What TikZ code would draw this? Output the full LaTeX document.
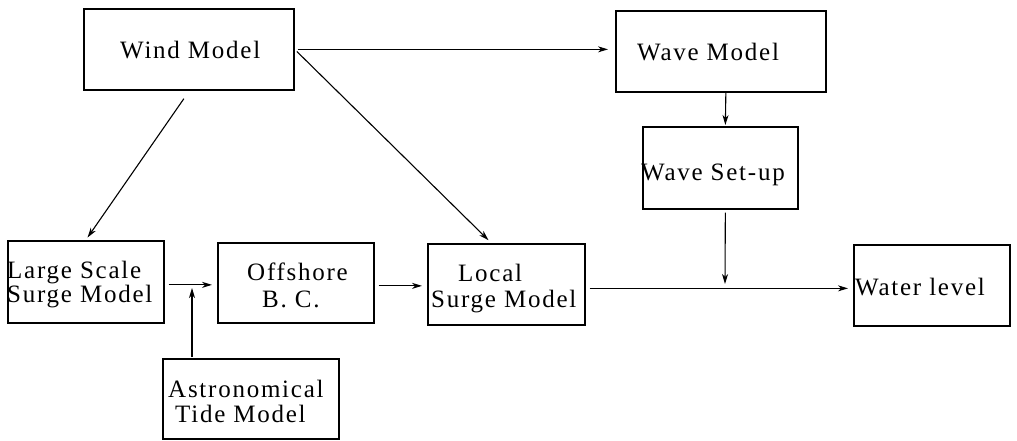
\documentclass[tikz,border=0pt]{standalone}
\usepackage{fontspec}
\setmainfont{Liberation Serif}[LetterSpace=7]
\usetikzlibrary{arrows.meta}
\begin{document}
\begin{tikzpicture}[x=1pt,y=-1pt,
  box/.style={draw, line width=1.7pt, inner sep=0pt, anchor=north west},
  lbl/.style={inner sep=0pt, anchor=base west, font=\fontsize{25}{30}\selectfont},
  arr/.style={line width=1.1pt, -{Stealth[length=10pt,width=6pt,inset=3pt]}}]
\useasboundingbox (0,0) rectangle (1017,440);
% boxes
\node[box, minimum width=210pt, minimum height=81pt] (wind)  at (83,8)   {};
\node[box, minimum width=210pt, minimum height=81pt] (wave)  at (615,10) {};
\node[box, minimum width=155pt, minimum height=82pt] (setup) at (642,126) {};
\node[box, minimum width=156pt, minimum height=82pt] (large) at (7,240)  {};
\node[box, minimum width=156pt, minimum height=80pt] (off)   at (217,242) {};
\node[box, minimum width=157pt, minimum height=81pt] (local) at (427,243) {};
\node[box, minimum width=156pt, minimum height=81pt] (water) at (853,244) {};
\node[box, minimum width=176pt, minimum height=80pt] (astro) at (162,358) {};
% labels
\node[lbl] (twind)  at (120,58)  {Wind Model};
\node[lbl] (twave)  at (637,60)  {Wave Model};
\node[lbl] (tsetup) at (641,180) {Wave Set-up};
\node[lbl] (tlarge1) at (7,278)  {Large Scale};
\node[lbl] (tlarge2) at (7,302)  {Surge Model};
\node[lbl] (toff1)  at (247,280) {Offshore};
\node[lbl] (toff2)  at (262,307) {B. C.};
\node[lbl] (tloc1)  at (458,281) {Local};
\node[lbl] (tloc2)  at (431,307) {Surge Model};
\node[lbl] (twater) at (855,295) {Water level};
\node[lbl] (tastro1) at (168,397) {Astronomical};
\node[lbl] (tastro2) at (175,422) {Tide Model};
% junction coordinates
\coordinate (j1) at (192,288);
\coordinate (j2) at (725,284);
% connectors
\draw[arr, shorten <=3pt, shorten >=7pt] (wind.east) -- (wind.east -| wave.west);
\draw[arr, shorten <=3pt, shorten >=4pt] (wind.east) -- ([xshift=-15pt]local.north);
\draw[arr, shorten >=3pt] ([xshift=-5pt,yshift=-8pt]wind.south) -- (large.north);
\draw[arr, shorten >=1pt] ([xshift=5pt]wave.south) -- ([xshift=5pt]setup.north);
\draw[arr, shorten <=3pt] ([xshift=5pt]setup.south) -- (j2);
\draw[arr, shorten <=4pt, shorten >=5pt] ([yshift=-3pt]large.east) -- ([yshift=-3pt]large.east -| off.west);
\draw[arr, shorten <=1pt] (astro.north -| j1) -- (j1);
\draw[arr, shorten <=4pt, shorten >=5pt] ([yshift=-3pt]off.east) -- ([yshift=-3pt]off.east -| local.west);
\draw[arr, shorten <=4pt, shorten >=5pt] ([yshift=-4pt]local.east) -- ([yshift=-4pt]local.east -| water.west);
\end{tikzpicture}
\end{document}
